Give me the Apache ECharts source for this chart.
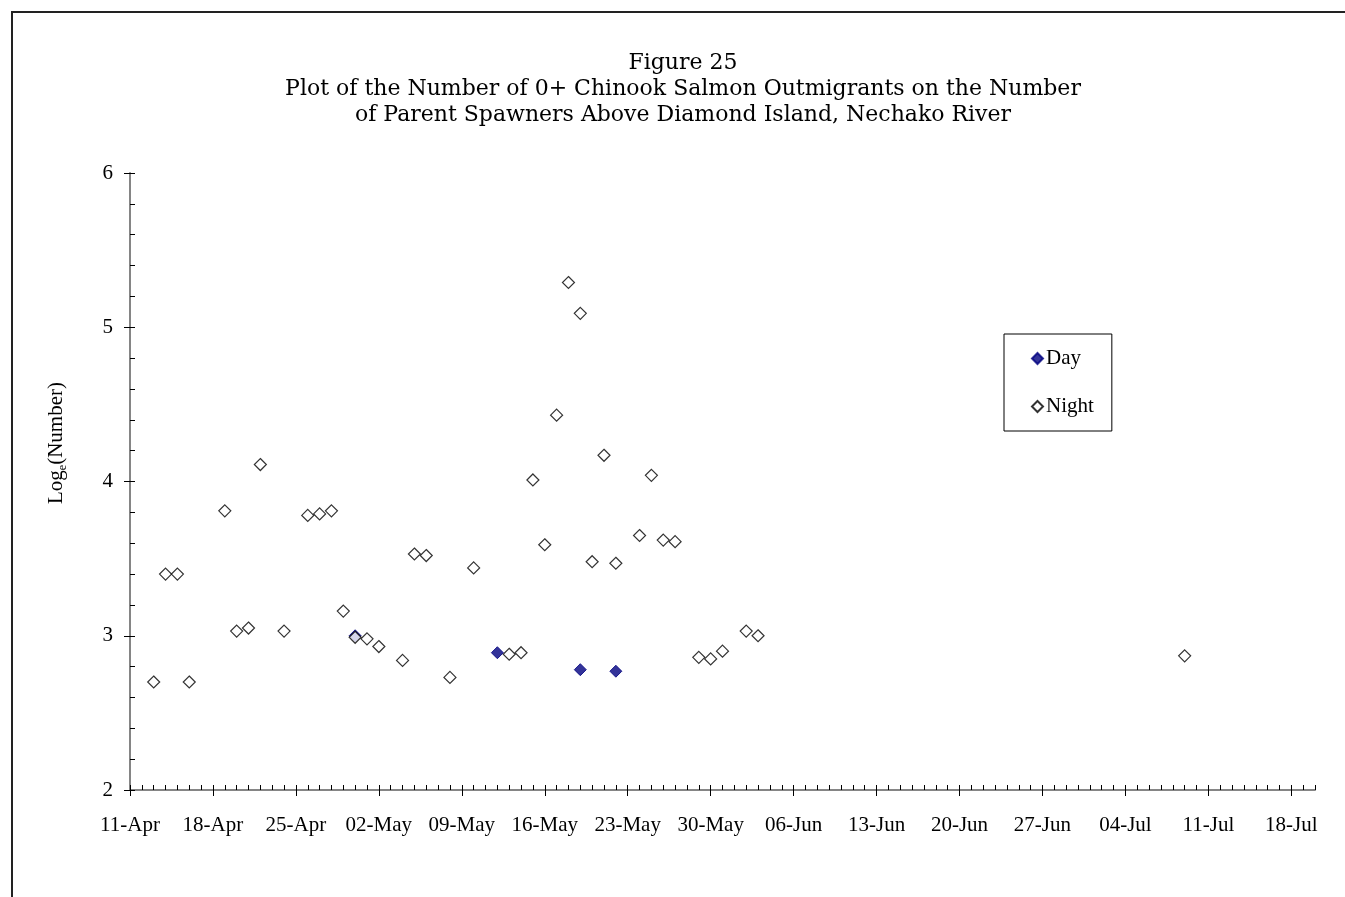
<!DOCTYPE html>
<html lang="en">
<head>
  <meta charset="UTF-8">
  <script src="https://cdn.jsdelivr.net/npm/echarts@6/dist/echarts.min.js"></script>
  <style>
    html, body { margin: 0; padding: 0; background: #fff; }
  </style>
</head>
<body>
<div id="main" style="width:1345px;height:897px;"></div>

<script>
  // sampling dates and log numbers
  var dayDates = ['30-Apr', '12-May', '19-May', '22-May'];
  var dayValues = [3.00, 2.89, 2.78, 2.77];

  var nightDates = ['13-Apr', '14-Apr', '15-Apr', '16-Apr', '19-Apr', '20-Apr', '21-Apr', '22-Apr', '24-Apr',
    '26-Apr', '27-Apr', '28-Apr', '29-Apr', '30-Apr', '01-May', '02-May', '04-May', '05-May', '06-May',
    '08-May', '10-May', '13-May', '14-May', '15-May', '16-May', '17-May', '18-May', '19-May', '20-May',
    '21-May', '22-May', '24-May', '25-May', '26-May', '27-May', '29-May', '30-May', '31-May', '02-Jun',
    '03-Jun', '09-Jul'];
  var nightValues = [2.70, 3.40, 3.40, 2.70, 3.81, 3.03, 3.05, 4.11, 3.03,
    3.78, 3.79, 3.81, 3.16, 2.99, 2.98, 2.93, 2.84, 3.53, 3.52,
    2.73, 3.44, 2.88, 2.89, 4.01, 3.59, 4.43, 5.29, 5.09, 3.48,
    4.17, 3.47, 3.65, 4.04, 3.62, 3.61, 2.86, 2.85, 2.90, 3.03,
    3.00, 2.87];

  var monthNames = ['Jan','Feb','Mar','Apr','May','Jun','Jul','Aug','Sep','Oct','Nov','Dec'];
  var startDate = Date.UTC(1998, 3, 11);   // 11-Apr, x = 0
  var axisDays = 100;                     // axis runs to 20-Jul

  function toDay(s) {
    var p = s.split('-');
    var t = Date.UTC(1998, monthNames.indexOf(p[1]), +p[0]);
    return Math.round((t - startDate) / 86400000);
  }
  function dayLabel(d) {
    var dt = new Date(startDate + d * 86400000);
    var dd = dt.getUTCDate();
    return (dd < 10 ? '0' + dd : '' + dd) + '-' + monthNames[dt.getUTCMonth()];
  }
  function pairs(dates, vals) {
    var out = [];
    for (var i = 0; i < dates.length; i++) out.push([toDay(dates[i]), vals[i]]);
    return out;
  }

  var weekTicks = [], dailyTicks = [], yMinor = [];
  for (var d = 0; d <= 98; d += 7) weekTicks.push(d);
  for (var d = 0; d <= axisDays; d++) dailyTicks.push(d);
  for (var k = 0; k <= 20; k++) yMinor.push(Math.round((2 + k * 0.2) * 10) / 10);

  var serif = 'Liberation Serif';
  var axisGray = '#858585';

  var chart = echarts.init(document.getElementById('main'));
  chart.setOption({
    animation: false,
    backgroundColor: '#fff',
    title: {
      text: 'Figure 25\nPlot of the Number of 0+ Chinook Salmon Outmigrants on the Number\nof Parent Spawners Above Diamond Island, Nechako River',
      left: 683,
      top: 50,
      padding: 0,
      textAlign: 'center',
      textStyle: {fontFamily: 'DejaVu Serif', fontSize: 22, fontWeight: 'normal', color: '#000', lineHeight: 26}
    },
    legend: {
      data: ['Day', 'Night'],
      orient: 'vertical',
      left: 1004,
      top: 334,
      padding: [14, 18, 14, 27],
      itemGap: 27,
      itemWidth: 11,
      itemHeight: 11,
      borderColor: '#000',
      borderWidth: 1,
      textStyle: {fontFamily: serif, fontSize: 21, color: '#000', padding: [0, 0, 0, -2]}
    },
    grid: {left: 130, right: 30, top: 173, bottom: 107},
    xAxis: [{
      type: 'value', min: 0, max: axisDays,
      axisLine: {lineStyle: {color: axisGray, width: 2}},
      axisTick: {customValues: weekTicks, length: 6, lineStyle: {color: '#000'}},
      axisLabel: {customValues: weekTicks, formatter: dayLabel, margin: 25,
        fontFamily: serif, fontSize: 21, color: '#000'},
      splitLine: {show: false}
    }, {
      type: 'value', min: 0, max: axisDays, position: 'bottom',
      axisLine: {show: false},
      axisTick: {customValues: dailyTicks, inside: true, length: 5, lineStyle: {color: '#000'}},
      axisLabel: {show: false},
      splitLine: {show: false}
    }],
    yAxis: [{
      type: 'value', min: 2, max: 6, interval: 1,
      axisLine: {show: true, lineStyle: {color: axisGray, width: 2}},
      axisTick: {show: true, length: 6, lineStyle: {color: '#000'}},
      axisLabel: {margin: 17, fontFamily: serif, fontSize: 21, color: '#000'},
      splitLine: {show: false}
    }, {
      type: 'value', min: 2, max: 6, position: 'left',
      axisLine: {show: false},
      axisTick: {show: true, customValues: yMinor, inside: true, length: 5, lineStyle: {color: '#000'}},
      axisLabel: {show: false},
      splitLine: {show: false}
    }],
    graphic: [{
      type: 'rect',
      shape: {x: 12, y: 12, width: 1400, height: 1000},
      style: {fill: 'none', stroke: '#222', lineWidth: 2},
      silent: true
    }, {
      type: 'text',
      x: 56, y: 443,
      rotation: Math.PI / 2,
      style: {
        text: '{n|Log}{e|e}{n|(Number)}',
        fill: '#000',
        align: 'center', verticalAlign: 'middle',
        rich: {
          n: {fontFamily: serif, fontSize: 21, fill: '#000', lineHeight: 26, verticalAlign: 'middle'},
          e: {fontFamily: serif, fontSize: 12, fill: '#000', lineHeight: 26, verticalAlign: 'bottom'}
        }
      }
    }],
    series: [{
      name: 'Day',
      type: 'scatter',
      symbol: 'diamond',
      symbolSize: 12,
      itemStyle: {color: '#000080', borderColor: '#000080', borderWidth: 1},
      data: pairs(dayDates, dayValues)
    }, {
      name: 'Night',
      type: 'scatter',
      symbol: 'diamond',
      symbolSize: 12,
      itemStyle: {color: '#fff', borderColor: '#000', borderWidth: 1.2},
      data: pairs(nightDates, nightValues)
    }]
  });
</script>
</body>
</html>
